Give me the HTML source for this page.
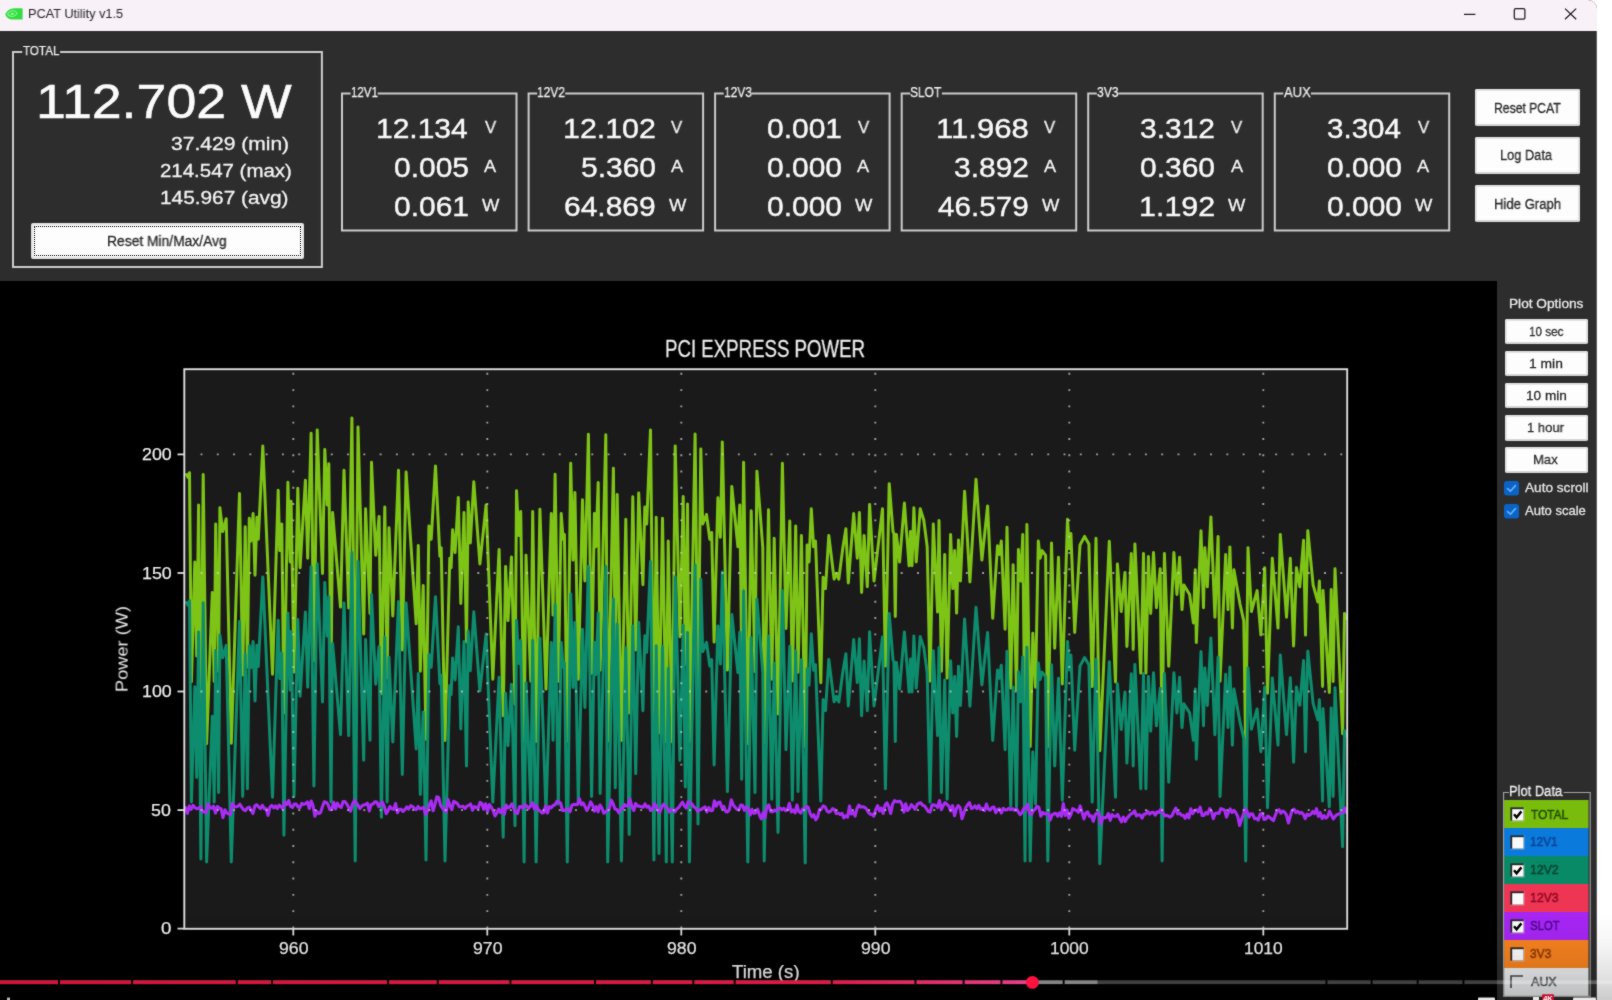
<!DOCTYPE html>
<html><head><meta charset="utf-8"><title>PCAT Utility v1.5</title>
<style>
html,body{margin:0;padding:0}
body{width:1612px;height:1000px;position:relative;overflow:hidden;background:#fff;font-family:"Liberation Sans",sans-serif}
#win{position:absolute;left:0;top:0;width:1597px;height:1000px;background:#2d2d2d;border-top-right-radius:9px;overflow:hidden;box-shadow:inset -1px 0 0 rgba(150,150,150,.45)}
.a{position:absolute;display:block}
.t{position:absolute;white-space:nowrap;line-height:1;transform-origin:0 0;will-change:transform}
#all{position:absolute;left:0;top:0;width:1612px;height:1000px;overflow:hidden;background:#fff;filter:url(#soft)}
</style></head><body><svg width="0" height="0" style="position:absolute"><defs><filter id="soft" x="0" y="0" width="100%" height="100%" color-interpolation-filters="sRGB"><feConvolveMatrix order="3" kernelMatrix="1 2 1 2 20 2 1 2 1" divisor="32" edgeMode="duplicate" preserveAlpha="true"/></filter></defs></svg><div id="all"><div id="win">
<div class="a" style="left:0px;top:0px;width:1597px;height:31px;background:#f8f1f8;"></div>
<svg class="a" style="left:2.9px;top:5.8px" width="21" height="16" viewBox="0 0 21 16">
<path d="M2.2 8.2 C4 4.2 7.5 2.2 11 2.2 L19 2.2 Q19.6 2.2 19.6 2.8 L19.6 13 Q19.6 13.6 19 13.6 L9.5 13.6 C6.2 13.6 3.4 11.6 2.2 8.2 Z" fill="#34dc41"/>
<path d="M4.6 8.1 C6 5.6 8.2 4.6 10.4 4.7 C12 4.8 13.3 5.7 14 7 C12.8 9.6 10.4 10.8 8.2 10.4 C6.6 10.1 5.3 9.3 4.6 8.1 Z" fill="none" stroke="#86f690" stroke-width="1.1"/>
<path d="M7.3 7.9 C8 6.8 9.2 6.5 10.2 6.8 C10.9 7 11.3 7.5 11.4 8 C10.8 8.9 9.8 9.3 8.9 9.1 C8.2 8.9 7.6 8.5 7.3 7.9 Z" fill="#86f690"/>
</svg>
<div class="t" style="left:28.05px;top:7.36px;font-size:13.4px;color:#262626;transform:scaleX(0.9515);">PCAT Utility v1.5</div>
<svg class="a" style="left:1455px;top:0px" width="140" height="31" viewBox="0 0 140 31">
<g fill="none" stroke="#1c1c1c" stroke-width="1.25">
<path d="M9 14.4 H20.4"/>
<rect x="59.3" y="8.6" width="10.6" height="10.4" rx="1.6"/>
<path d="M110 8.6 L121.2 19.2 M121.2 8.6 L110 19.2"/>
</g></svg>
<div class="t" style="left:23.00px;top:44.76px;font-size:12.8px;color:#f2f2f2;transform:scaleX(0.9075);-webkit-text-stroke:0.25px currentColor;">TOTAL</div>
<div class="t" style="left:35.62px;top:76.52px;font-size:49px;color:#fbfbfb;transform:scaleX(1.0961);-webkit-text-stroke:0.55px currentColor;">112.702 W</div>
<div class="t" style="left:170.80px;top:136.40px;font-size:17.6px;color:#f2f2f2;transform:scaleX(1.1959);-webkit-text-stroke:0.3px currentColor;">37.429 (min)</div>
<div class="t" style="left:159.84px;top:163.00px;font-size:17.6px;color:#f2f2f2;transform:scaleX(1.1622);-webkit-text-stroke:0.3px currentColor;">214.547 (max)</div>
<div class="t" style="left:159.82px;top:189.60px;font-size:17.6px;color:#f2f2f2;transform:scaleX(1.1832);-webkit-text-stroke:0.3px currentColor;">145.967 (avg)</div>
<div class="a" style="left:31px;top:223px;width:273px;height:36px;background:#fdfdfd;border:2px solid #e3e3e3;box-sizing:border-box;border-radius:2px;"></div>
<div class="a" style="left:34px;top:226px;width:267px;height:30px;border:1px dotted #000;box-sizing:border-box;"></div>
<div class="t" style="left:107.01px;top:234.35px;font-size:14px;color:#2a2a2a;transform:scaleX(0.9882);-webkit-text-stroke:0.3px currentColor;">Reset Min/Max/Avg</div>
<div class="t" style="left:350.58px;top:85.15px;font-size:14px;color:#f2f2f2;transform:scaleX(0.8226);-webkit-text-stroke:0.25px currentColor;">12V1</div>
<div class="t" style="left:376.34px;top:115.27px;font-size:27.2px;color:#f8f8f8;transform:scaleX(1.1031);-webkit-text-stroke:0.4px currentColor;">12.134</div>
<div class="t" style="left:484.80px;top:119.15px;font-size:17.3px;color:#f2f2f2;transform:scaleX(0.9667);-webkit-text-stroke:0.3px currentColor;">V</div>
<div class="t" style="left:394.00px;top:154.27px;font-size:27.2px;color:#f8f8f8;transform:scaleX(1.1030);-webkit-text-stroke:0.4px currentColor;">0.005</div>
<div class="t" style="left:484.30px;top:158.15px;font-size:17.3px;color:#f2f2f2;transform:scaleX(1.0500);-webkit-text-stroke:0.3px currentColor;">A</div>
<div class="t" style="left:394.00px;top:193.27px;font-size:27.2px;color:#f8f8f8;transform:scaleX(1.1030);-webkit-text-stroke:0.4px currentColor;">0.061</div>
<div class="t" style="left:482.10px;top:197.15px;font-size:17.3px;color:#f2f2f2;transform:scaleX(1.0625);-webkit-text-stroke:0.3px currentColor;">W</div>
<div class="t" style="left:537.10px;top:85.15px;font-size:14px;color:#f2f2f2;transform:scaleX(0.8548);-webkit-text-stroke:0.25px currentColor;">12V2</div>
<div class="t" style="left:562.87px;top:115.27px;font-size:27.2px;color:#f8f8f8;transform:scaleX(1.1169);-webkit-text-stroke:0.4px currentColor;">12.102</div>
<div class="t" style="left:671.35px;top:119.15px;font-size:17.3px;color:#f2f2f2;transform:scaleX(0.9667);-webkit-text-stroke:0.3px currentColor;">V</div>
<div class="t" style="left:580.55px;top:154.27px;font-size:27.2px;color:#f8f8f8;transform:scaleX(1.1030);-webkit-text-stroke:0.4px currentColor;">5.360</div>
<div class="t" style="left:670.85px;top:158.15px;font-size:17.3px;color:#f2f2f2;transform:scaleX(1.0500);-webkit-text-stroke:0.3px currentColor;">A</div>
<div class="t" style="left:564.00px;top:193.27px;font-size:27.2px;color:#f8f8f8;transform:scaleX(1.1031);-webkit-text-stroke:0.4px currentColor;">64.869</div>
<div class="t" style="left:668.65px;top:197.15px;font-size:17.3px;color:#f2f2f2;transform:scaleX(1.0625);-webkit-text-stroke:0.3px currentColor;">W</div>
<div class="t" style="left:723.65px;top:85.15px;font-size:14px;color:#f2f2f2;transform:scaleX(0.8548);-webkit-text-stroke:0.25px currentColor;">12V3</div>
<div class="t" style="left:767.10px;top:115.27px;font-size:27.2px;color:#f8f8f8;transform:scaleX(1.1030);-webkit-text-stroke:0.4px currentColor;">0.001</div>
<div class="t" style="left:857.90px;top:119.15px;font-size:17.3px;color:#f2f2f2;transform:scaleX(0.9667);-webkit-text-stroke:0.3px currentColor;">V</div>
<div class="t" style="left:767.10px;top:154.27px;font-size:27.2px;color:#f8f8f8;transform:scaleX(1.1030);-webkit-text-stroke:0.4px currentColor;">0.000</div>
<div class="t" style="left:857.40px;top:158.15px;font-size:17.3px;color:#f2f2f2;transform:scaleX(1.0500);-webkit-text-stroke:0.3px currentColor;">A</div>
<div class="t" style="left:767.10px;top:193.27px;font-size:27.2px;color:#f8f8f8;transform:scaleX(1.1030);-webkit-text-stroke:0.4px currentColor;">0.000</div>
<div class="t" style="left:855.20px;top:197.15px;font-size:17.3px;color:#f2f2f2;transform:scaleX(1.0625);-webkit-text-stroke:0.3px currentColor;">W</div>
<div class="t" style="left:910.19px;top:85.15px;font-size:14px;color:#f2f2f2;transform:scaleX(0.8571);-webkit-text-stroke:0.25px currentColor;">SLOT</div>
<div class="t" style="left:935.91px;top:115.27px;font-size:27.2px;color:#f8f8f8;transform:scaleX(1.1455);-webkit-text-stroke:0.4px currentColor;">11.968</div>
<div class="t" style="left:1044.45px;top:119.15px;font-size:17.3px;color:#f2f2f2;transform:scaleX(0.9667);-webkit-text-stroke:0.3px currentColor;">V</div>
<div class="t" style="left:953.65px;top:154.27px;font-size:27.2px;color:#f8f8f8;transform:scaleX(1.1030);-webkit-text-stroke:0.4px currentColor;">3.892</div>
<div class="t" style="left:1043.95px;top:158.15px;font-size:17.3px;color:#f2f2f2;transform:scaleX(1.0500);-webkit-text-stroke:0.3px currentColor;">A</div>
<div class="t" style="left:938.20px;top:193.27px;font-size:27.2px;color:#f8f8f8;transform:scaleX(1.0896);-webkit-text-stroke:0.4px currentColor;">46.579</div>
<div class="t" style="left:1041.75px;top:197.15px;font-size:17.3px;color:#f2f2f2;transform:scaleX(1.0625);-webkit-text-stroke:0.3px currentColor;">W</div>
<div class="t" style="left:1096.73px;top:85.15px;font-size:14px;color:#f2f2f2;transform:scaleX(0.8696);-webkit-text-stroke:0.25px currentColor;">3V3</div>
<div class="t" style="left:1140.20px;top:115.27px;font-size:27.2px;color:#f8f8f8;transform:scaleX(1.1030);-webkit-text-stroke:0.4px currentColor;">3.312</div>
<div class="t" style="left:1231.00px;top:119.15px;font-size:17.3px;color:#f2f2f2;transform:scaleX(0.9667);-webkit-text-stroke:0.3px currentColor;">V</div>
<div class="t" style="left:1140.20px;top:154.27px;font-size:27.2px;color:#f8f8f8;transform:scaleX(1.1030);-webkit-text-stroke:0.4px currentColor;">0.360</div>
<div class="t" style="left:1230.50px;top:158.15px;font-size:17.3px;color:#f2f2f2;transform:scaleX(1.0500);-webkit-text-stroke:0.3px currentColor;">A</div>
<div class="t" style="left:1139.06px;top:193.27px;font-size:27.2px;color:#f8f8f8;transform:scaleX(1.1200);-webkit-text-stroke:0.4px currentColor;">1.192</div>
<div class="t" style="left:1228.30px;top:197.15px;font-size:17.3px;color:#f2f2f2;transform:scaleX(1.0625);-webkit-text-stroke:0.3px currentColor;">W</div>
<div class="t" style="left:1284.15px;top:85.15px;font-size:14px;color:#f2f2f2;transform:scaleX(0.9286);-webkit-text-stroke:0.25px currentColor;">AUX</div>
<div class="t" style="left:1326.76px;top:115.27px;font-size:27.2px;color:#f8f8f8;transform:scaleX(1.0866);-webkit-text-stroke:0.4px currentColor;">3.304</div>
<div class="t" style="left:1417.55px;top:119.15px;font-size:17.3px;color:#f2f2f2;transform:scaleX(0.9667);-webkit-text-stroke:0.3px currentColor;">V</div>
<div class="t" style="left:1326.75px;top:154.27px;font-size:27.2px;color:#f8f8f8;transform:scaleX(1.1030);-webkit-text-stroke:0.4px currentColor;">0.000</div>
<div class="t" style="left:1417.05px;top:158.15px;font-size:17.3px;color:#f2f2f2;transform:scaleX(1.0500);-webkit-text-stroke:0.3px currentColor;">A</div>
<div class="t" style="left:1326.75px;top:193.27px;font-size:27.2px;color:#f8f8f8;transform:scaleX(1.1030);-webkit-text-stroke:0.4px currentColor;">0.000</div>
<div class="t" style="left:1414.85px;top:197.15px;font-size:17.3px;color:#f2f2f2;transform:scaleX(1.0625);-webkit-text-stroke:0.3px currentColor;">W</div>
<div class="a" style="left:1475px;top:89px;width:105px;height:37px;background:#fdfdfd;border:2px solid #e3e3e3;border-bottom-color:#d6d6d6;box-sizing:border-box;border-radius:2px;"></div>
<div class="t" style="left:1493.63px;top:100.75px;font-size:14px;color:#2a2a2a;transform:scaleX(0.8684);-webkit-text-stroke:0.3px currentColor;">Reset PCAT</div>
<div class="a" style="left:1475px;top:137px;width:105px;height:37px;background:#fdfdfd;border:2px solid #e3e3e3;border-bottom-color:#d6d6d6;box-sizing:border-box;border-radius:2px;"></div>
<div class="t" style="left:1500.08px;top:148.45px;font-size:14px;color:#2a2a2a;transform:scaleX(0.9161);-webkit-text-stroke:0.3px currentColor;">Log Data</div>
<div class="a" style="left:1475px;top:185px;width:105px;height:36.5px;background:#fdfdfd;border:2px solid #e3e3e3;border-bottom-color:#d6d6d6;box-sizing:border-box;border-radius:2px;"></div>
<div class="t" style="left:1493.86px;top:196.95px;font-size:14px;color:#2a2a2a;transform:scaleX(0.9371);-webkit-text-stroke:0.3px currentColor;">Hide Graph</div>
<div class="a" style="left:0px;top:280.5px;width:1497px;height:719.5px;background:#000;"></div>
<div class="t" style="left:1509.05px;top:296.79px;font-size:13px;color:#e8e8e8;transform:scaleX(1.0507);-webkit-text-stroke:0.3px currentColor;">Plot Options</div>
<div class="a" style="left:1505px;top:319px;width:82.5px;height:24.5px;background:#fdfdfd;border:2px solid #e3e3e3;border-bottom-color:#d6d6d6;box-sizing:border-box;border-radius:2px;"></div>
<div class="t" style="left:1528.84px;top:324.54px;font-size:13.6px;color:#2a2a2a;transform:scaleX(0.8590);-webkit-text-stroke:0.3px currentColor;">10 sec</div>
<div class="a" style="left:1505px;top:350.5px;width:82.5px;height:25.5px;background:#fdfdfd;border:2px solid #e3e3e3;border-bottom-color:#d6d6d6;box-sizing:border-box;border-radius:2px;"></div>
<div class="t" style="left:1528.98px;top:356.54px;font-size:13.6px;color:#2a2a2a;transform:scaleX(1.0187);-webkit-text-stroke:0.3px currentColor;">1 min</div>
<div class="a" style="left:1505px;top:383px;width:82.5px;height:25px;background:#fdfdfd;border:2px solid #e3e3e3;border-bottom-color:#d6d6d6;box-sizing:border-box;border-radius:2px;"></div>
<div class="t" style="left:1526.00px;top:388.79px;font-size:13.6px;color:#2a2a2a;transform:scaleX(0.9974);-webkit-text-stroke:0.3px currentColor;">10 min</div>
<div class="a" style="left:1505px;top:415px;width:82.5px;height:25.5px;background:#fdfdfd;border:2px solid #e3e3e3;border-bottom-color:#d6d6d6;box-sizing:border-box;border-radius:2px;"></div>
<div class="t" style="left:1527.44px;top:421.04px;font-size:13.6px;color:#2a2a2a;transform:scaleX(0.9579);-webkit-text-stroke:0.3px currentColor;">1 hour</div>
<div class="a" style="left:1505px;top:447px;width:82.5px;height:26px;background:#fdfdfd;border:2px solid #e3e3e3;border-bottom-color:#d6d6d6;box-sizing:border-box;border-radius:2px;"></div>
<div class="t" style="left:1532.84px;top:453.29px;font-size:13.6px;color:#2a2a2a;transform:scaleX(0.9600);-webkit-text-stroke:0.3px currentColor;">Max</div>
<svg class="a" style="left:1504px;top:480.9px" width="16" height="16" viewBox="0 0 16 16"><rect x="0" y="0" width="15" height="14.5" rx="3" fill="#0b63c6"/><path d="M3.6 7.6 L6.4 10.2 L11.4 4.6" fill="none" stroke="#5fb2ff" stroke-width="1.7" stroke-linecap="round" stroke-linejoin="round"/></svg>
<div class="t" style="left:1524.50px;top:481.86px;font-size:12.8px;color:#e4e4e4;transform:scaleX(1.0644);-webkit-text-stroke:0.3px currentColor;">Auto scroll</div>
<svg class="a" style="left:1504px;top:504.1px" width="16" height="16" viewBox="0 0 16 16"><rect x="0" y="0" width="15" height="14.5" rx="3" fill="#0b63c6"/><path d="M3.6 7.6 L6.4 10.2 L11.4 4.6" fill="none" stroke="#5fb2ff" stroke-width="1.7" stroke-linecap="round" stroke-linejoin="round"/></svg>
<div class="t" style="left:1524.50px;top:504.86px;font-size:12.8px;color:#e4e4e4;transform:scaleX(1.0183);-webkit-text-stroke:0.3px currentColor;">Auto scale</div>
<div class="t" style="left:1509.08px;top:784.35px;font-size:14px;color:#f4f4f4;transform:scaleX(0.9228);-webkit-text-stroke:0.3px currentColor;">Plot Data</div>
<svg class="a" style="left:1504px;top:799.20px" width="85" height="30"><rect x="0.1" y="1" width="84.4" height="28.15" fill="#79bc0c"/></svg>
<svg class="a" style="left:1509.5px;top:807.2px" width="16" height="16"><rect x="0.5" y="0.5" width="14" height="14" fill="#fff" fill-opacity=".35"/><rect x="0.3" y="0.3" width="13.4" height="13.4" fill="#1a1a1a" fill-opacity=".9"/><rect x="2.2" y="2.2" width="11.4" height="11.4" fill="#fbfbfb"/><path d="M4 7.2 L6.6 10.2 L11.4 4.4" fill="none" stroke="#000" stroke-width="2.5"/></svg>
<div class="t" style="left:1530.50px;top:807.53px;font-size:13.4px;color:#1f4d00;transform:scaleX(0.8857);-webkit-text-stroke:0.5px currentColor;">TOTAL</div>
<svg class="a" style="left:1504px;top:827.15px" width="85" height="30"><rect x="0.1" y="1" width="84.4" height="28.15" fill="#0a7bdc"/></svg>
<svg class="a" style="left:1509.5px;top:835.1px" width="16" height="16"><rect x="0.5" y="0.5" width="14" height="14" fill="#fff" fill-opacity=".35"/><rect x="0.3" y="0.3" width="13.4" height="13.4" fill="#1a1a1a" fill-opacity=".9"/><rect x="2.2" y="2.2" width="11.4" height="11.4" fill="#fbfbfb"/></svg>
<div class="t" style="left:1529.62px;top:835.48px;font-size:13.4px;color:#0b3f91;transform:scaleX(0.8800);-webkit-text-stroke:0.5px currentColor;">12V1</div>
<svg class="a" style="left:1504px;top:855.10px" width="85" height="30"><rect x="0.1" y="1" width="84.4" height="28.15" fill="#088a66"/></svg>
<svg class="a" style="left:1509.5px;top:863.1px" width="16" height="16"><rect x="0.5" y="0.5" width="14" height="14" fill="#fff" fill-opacity=".35"/><rect x="0.3" y="0.3" width="13.4" height="13.4" fill="#1a1a1a" fill-opacity=".9"/><rect x="2.2" y="2.2" width="11.4" height="11.4" fill="#fbfbfb"/><path d="M4 7.2 L6.6 10.2 L11.4 4.4" fill="none" stroke="#000" stroke-width="2.5"/></svg>
<div class="t" style="left:1529.59px;top:863.43px;font-size:13.4px;color:#04402f;transform:scaleX(0.9133);-webkit-text-stroke:0.5px currentColor;">12V2</div>
<svg class="a" style="left:1504px;top:883.05px" width="85" height="30"><rect x="0.1" y="1" width="84.4" height="28.15" fill="#ef3554"/></svg>
<svg class="a" style="left:1509.5px;top:891.0px" width="16" height="16"><rect x="0.5" y="0.5" width="14" height="14" fill="#fff" fill-opacity=".35"/><rect x="0.3" y="0.3" width="13.4" height="13.4" fill="#1a1a1a" fill-opacity=".9"/><rect x="2.2" y="2.2" width="11.4" height="11.4" fill="#fbfbfb"/></svg>
<div class="t" style="left:1529.59px;top:891.38px;font-size:13.4px;color:#8c0a22;transform:scaleX(0.9133);-webkit-text-stroke:0.5px currentColor;">12V3</div>
<svg class="a" style="left:1504px;top:911.00px" width="85" height="30"><rect x="0.1" y="1" width="84.4" height="28.15" fill="#a626f4"/></svg>
<svg class="a" style="left:1509.5px;top:919.0px" width="16" height="16"><rect x="0.5" y="0.5" width="14" height="14" fill="#fff" fill-opacity=".35"/><rect x="0.3" y="0.3" width="13.4" height="13.4" fill="#1a1a1a" fill-opacity=".9"/><rect x="2.2" y="2.2" width="11.4" height="11.4" fill="#fbfbfb"/><path d="M4 7.2 L6.6 10.2 L11.4 4.4" fill="none" stroke="#000" stroke-width="2.5"/></svg>
<div class="t" style="left:1529.65px;top:919.33px;font-size:13.4px;color:#4f0a8c;transform:scaleX(0.8471);-webkit-text-stroke:0.5px currentColor;">SLOT</div>
<svg class="a" style="left:1504px;top:938.95px" width="85" height="30"><rect x="0.1" y="1" width="84.4" height="28.15" fill="#f6821f"/></svg>
<svg class="a" style="left:1509.5px;top:946.9px" width="16" height="16"><rect x="0.5" y="0.5" width="14" height="14" fill="#fff" fill-opacity=".35"/><rect x="0.3" y="0.3" width="13.4" height="13.4" fill="#1a1a1a" fill-opacity=".9"/><rect x="2.2" y="2.2" width="11.4" height="11.4" fill="#fbfbfb"/></svg>
<div class="t" style="left:1529.61px;top:947.28px;font-size:13.4px;color:#8a3600;transform:scaleX(0.8870);-webkit-text-stroke:0.5px currentColor;">3V3</div>
<svg class="a" style="left:1504px;top:966.90px" width="85" height="30"><rect x="0.1" y="1" width="84.4" height="28.15" fill="#e9ebec"/></svg>
<svg class="a" style="left:1510px;top:975.4px" width="14" height="14"><path d="M1 13 V1 H13" fill="none" stroke="#444" stroke-width="1.6"/></svg>
<div class="t" style="left:1530.50px;top:975.23px;font-size:13.4px;color:#4a4a4a;transform:scaleX(0.9333);-webkit-text-stroke:0.5px currentColor;">AUX</div>
<svg class="a" style="left:0;top:0" width="1597" height="1000"><path d="M60.1 51.9 H321.9 V267 H13 V51.9 H22.2" fill="none" stroke="#cbcbcb" stroke-width="2.0"/><path d="M377.7 93.5 H516.5 V230.6 H342.0 V93.5 H350.6" fill="none" stroke="#cbcbcb" stroke-width="2.0"/><path d="M565.2 93.5 H703.1 V230.6 H528.6 V93.5 H537.2" fill="none" stroke="#cbcbcb" stroke-width="2.0"/><path d="M751.8 93.5 H889.6 V230.6 H715.1 V93.5 H723.7" fill="none" stroke="#cbcbcb" stroke-width="2.0"/><path d="M941.9 93.5 H1076.2 V230.6 H901.7 V93.5 H910.3" fill="none" stroke="#cbcbcb" stroke-width="2.0"/><path d="M1118.4 93.5 H1262.7 V230.6 H1088.2 V93.5 H1096.8" fill="none" stroke="#cbcbcb" stroke-width="2.0"/><path d="M1310.9 93.5 H1449.2 V230.6 H1274.8 V93.5 H1283.3" fill="none" stroke="#cbcbcb" stroke-width="2.0"/><path d="M1563.6 792.5 H1590.2 V996.4 H1503.6 V792.5 H1509.0" fill="none" stroke="#a4a4a4" stroke-width="1.1"/></svg>
<svg class="a" style="left:0;top:281px" width="1497" height="719" viewBox="0 281 1497 719">
<rect x="184.3" y="369.2" width="1162.9" height="559.5999999999999" fill="#1a1a1a"/>
<clipPath id="cp"><rect x="184.3" y="369.2" width="1162.9" height="559.5999999999999"/></clipPath><g clip-path="url(#cp)">
<polyline points="186.6,474.6 188.0,477.4 189.5,472.7 191.4,681.7 194.8,562.0 196.7,656.0 198.6,505.0 200.9,740.8 203.2,474.6 206.6,743.7 212.3,592.4 214.2,681.4 215.7,524.0 218.6,671.5 219.9,507.8 222.7,531.6 226.2,518.7 231.3,743.3 239.5,493.6 242.7,675.0 245.2,526.8 247.4,666.9 249.3,518.3 250.9,541.1 253.1,513.5 255.0,575.3 256.9,517.3 258.3,539.2 262.8,446.1 272.5,674.3 278.2,490.2 279.7,550.6 281.8,524.0 283.9,713.1 287.9,482.2 290.2,562.0 291.1,501.2 294.0,672.1 297.8,488.3 300.1,567.7 305.4,480.3 307.7,558.2 311.1,433.2 313.9,660.7 317.2,429.9 322.5,573.4 324.8,449.5 327.2,505.0 328.8,463.8 331.0,677.2 332.6,512.6 340.5,607.1 344.0,470.2 348.7,607.9 351.9,418.0 355.2,738.2 358.0,427.1 363.7,634.0 365.6,508.8 370.0,613.5 371.5,462.2 375.7,555.3 379.1,516.4 381.4,693.7 384.8,506.9 387.1,678.1 389.0,527.8 392.8,615.9 398.5,470.2 402.3,649.9 406.1,472.1 416.2,623.8 418.3,545.5 420.3,671.2 423.2,585.6 426.0,739.3 428.9,525.9 431.2,539.2 435.5,466.0 439.9,556.3 441.2,547.7 445.0,740.4 449.8,558.2 451.1,567.7 452.6,529.7 455.1,552.5 458.3,497.4 460.8,603.4 464.0,512.6 466.5,641.9 468.2,502.1 470.3,543.0 473.8,481.8 479.9,563.9 486.1,505.0 492.8,679.3 499.1,549.6 503.2,715.8 505.6,566.4 508.0,620.6 511.5,557.0 515.0,703.9 516.5,490.7 518.8,535.4 520.7,511.6 524.1,741.4 526.0,555.3 530.8,681.2 532.7,511.6 536.1,741.4 539.9,509.2 546.0,689.1 551.3,513.5 553.0,615.1 555.1,474.2 558.3,681.2 561.2,513.5 563.1,539.2 564.4,534.4 567.3,741.3 570.7,463.2 573.0,560.1 574.9,492.6 578.3,679.2 582.5,499.7 584.9,581.0 588.4,434.3 591.6,673.2 594.4,513.5 595.8,546.8 598.2,482.6 600.1,670.3 605.8,434.7 607.7,741.3 613.4,468.3 615.3,664.5 617.2,494.5 621.4,740.5 625.8,519.2 629.2,712.9 632.8,496.8 635.7,649.9 638.7,493.0 642.9,584.8 644.8,506.9 646.7,524.0 650.5,429.9 653.9,739.8 656.2,517.3 659.0,733.0 662.5,518.3 666.3,741.9 668.2,541.1 672.3,742.0 675.2,446.1 679.9,636.7 683.2,496.4 685.3,664.2 687.5,504.0 689.4,742.1 695.1,434.1 698.0,702.8 700.8,448.9 702.7,524.0 706.5,514.5 709.8,539.2 711.7,532.5 714.1,642.1 717.9,497.8 720.4,537.3 722.3,441.9 727.4,670.1 731.8,486.4 737.9,546.8 739.8,505.0 741.7,657.6 743.6,462.2 747.8,743.6 751.2,510.7 755.0,671.8 756.9,471.2 762.8,547.7 764.2,743.1 768.5,509.7 771.8,679.2 774.2,538.2 778.0,713.9 782.4,463.2 786.0,628.5 789.8,521.1 792.3,680.9 795.7,525.9 798.0,672.2 801.4,535.4 805.2,746.4 807.1,544.9 809.0,562.0 811.3,508.8 813.6,546.8 815.5,541.1 820.8,682.8 823.1,577.2 825.5,588.6 828.8,535.4 834.1,579.1 836.4,573.4 838.8,579.1 842.6,549.6 845.9,528.7 848.3,582.9 853.7,513.5 857.3,558.2 859.4,512.6 861.6,592.4 864.1,535.4 867.3,586.7 869.6,504.4 874.0,581.0 882.5,508.8 885.4,666.1 889.2,483.7 893.0,531.6 893.9,533.5 895.3,616.5 896.4,534.4 899.6,562.0 904.4,503.1 909.1,565.8 910.5,531.6 912.0,565.8 913.9,507.8 916.2,562.0 920.2,508.8 923.8,520.2 927.2,546.8 930.0,681.1 933.3,524.0 937.6,612.1 939.0,520.6 941.4,671.2 944.7,554.4 947.1,678.1 950.6,534.4 952.8,588.6 954.7,550.6 956.6,613.1 958.5,540.1 960.4,581.0 964.6,491.3 969.9,581.9 976.0,479.3 981.9,560.1 987.6,505.9 992.7,618.3 997.5,545.8 999.4,554.4 1001.3,541.1 1005.1,629.3 1007.0,527.2 1010.8,688.1 1013.1,564.8 1016.5,689.6 1018.4,549.6 1020.7,581.0 1022.8,534.4 1025.0,746.3 1026.9,524.4 1030.2,746.4 1032.8,633.3 1035.5,687.3 1038.3,541.1 1040.2,558.2 1042.1,550.6 1045.6,555.3 1047.8,746.8 1051.5,543.1 1054.7,648.3 1058.5,557.3 1062.3,684.0 1067.5,519.3 1069.4,548.8 1070.9,533.6 1074.7,632.4 1080.0,545.0 1084.6,536.4 1088.9,544.0 1092.2,686.6 1096.0,538.3 1099.8,750.8 1109.3,541.2 1115.5,681.9 1117.4,564.0 1121.2,611.5 1125.0,572.5 1126.9,646.4 1131.3,553.5 1133.2,649.4 1134.9,544.0 1140.8,673.1 1143.5,553.5 1145.9,673.1 1148.4,556.4 1150.7,613.4 1153.5,552.6 1156.4,607.7 1160.2,568.7 1162.1,748.0 1164.4,553.5 1168.7,666.2 1173.9,552.6 1176.9,594.4 1179.6,557.3 1182.0,609.6 1183.9,584.9 1189.6,594.4 1193.4,622.9 1195.3,569.7 1196.3,642.6 1201.0,530.7 1203.5,607.7 1204.8,547.8 1207.3,586.8 1210.9,516.9 1214.9,617.2 1218.1,536.4 1220.0,681.2 1225.7,554.5 1228.0,609.6 1229.9,546.9 1232.4,628.0 1233.9,569.7 1240.0,604.1 1243.8,621.0 1245.7,748.3 1248.0,547.8 1251.4,611.5 1257.1,590.6 1260.9,634.9 1264.7,567.8 1267.5,693.2 1272.3,558.3 1278.0,628.1 1280.3,534.5 1286.5,617.2 1290.3,558.3 1293.6,645.9 1296.4,567.8 1299.8,586.8 1303.6,540.2 1305.5,635.1 1307.8,530.7 1313.1,584.9 1317.9,602.0 1319.4,581.1 1322.6,686.4 1323.0,590.6 1329.3,692.4 1331.2,589.6 1333.1,681.5 1335.0,568.7 1342.6,733.8 1344.5,613.4 1346.5,618.5" fill="none" stroke="#7ec416" stroke-width="3.0" stroke-linejoin="round" stroke-linecap="round"/>
<polyline points="186.6,602.5 188.0,605.2 189.5,600.7 191.4,802.1 194.8,686.8 196.7,777.4 198.6,631.9 200.9,859.1 203.2,602.7 206.6,861.9 212.3,716.3 214.2,802.1 215.7,650.4 218.6,792.6 219.9,634.9 222.7,657.8 226.2,645.4 231.3,861.9 239.5,621.4 242.7,796.4 245.2,653.8 247.4,788.8 249.3,645.8 250.9,667.8 253.1,641.4 255.0,701.0 256.9,645.3 258.3,666.4 262.8,576.9 272.5,797.3 278.2,620.3 279.7,678.6 281.8,653.0 283.9,835.3 287.9,613.1 290.2,690.1 291.1,631.6 294.0,796.4 297.8,619.5 300.1,696.2 305.4,612.0 307.7,687.1 311.1,566.7 313.9,786.0 317.2,563.7 322.5,702.0 324.8,582.6 327.2,636.1 328.8,596.4 331.0,802.1 332.6,643.5 340.5,734.6 344.0,602.9 348.7,735.6 351.9,552.6 355.2,861.0 358.0,561.2 363.7,760.3 365.6,639.6 370.0,740.3 371.5,594.6 375.7,684.2 379.1,646.6 381.4,817.3 384.8,637.2 387.1,802.1 389.0,657.2 392.8,742.0 398.5,601.5 402.3,774.5 406.1,603.1 416.2,748.9 418.3,673.4 420.3,794.5 423.2,711.9 426.0,860.0 428.9,654.4 431.2,667.2 435.5,596.7 439.9,683.7 441.2,675.4 445.0,861.0 449.8,685.4 451.1,694.6 452.6,658.0 455.1,679.9 458.3,626.8 460.8,728.9 464.0,641.4 466.5,766.0 468.2,631.3 470.3,670.7 473.8,611.8 479.9,690.8 486.1,634.1 492.8,802.1 499.1,677.2 503.2,837.2 505.6,693.3 508.0,745.6 511.5,684.2 515.0,825.8 516.5,620.4 518.8,663.5 520.7,640.6 524.1,861.9 526.0,682.7 530.8,804.0 532.7,640.6 536.1,861.9 539.9,638.2 546.0,811.6 551.3,642.5 553.0,740.3 555.1,604.6 558.3,804.0 561.2,642.5 563.1,667.2 564.4,662.6 567.3,861.9 570.7,594.0 573.0,687.4 574.9,622.4 578.3,802.1 582.5,629.2 584.9,707.5 588.4,566.2 591.6,796.4 594.4,642.5 595.8,674.6 598.2,612.7 600.1,793.5 605.8,566.5 607.7,861.9 613.4,598.9 615.3,787.8 617.2,624.1 621.4,861.0 625.8,647.8 629.2,834.4 632.8,626.1 635.7,773.6 638.7,622.4 642.9,710.8 644.8,635.7 646.7,652.2 650.5,561.5 653.9,860.0 656.2,645.7 659.0,853.4 662.5,646.5 666.3,861.9 668.2,668.5 672.3,861.9 675.2,576.9 679.9,760.4 683.2,625.3 685.3,786.9 687.5,632.6 689.4,861.9 695.1,565.1 698.0,824.0 700.8,579.3 702.7,651.6 706.5,642.3 709.8,666.1 711.7,659.6 714.1,765.0 717.9,625.9 720.4,663.9 722.3,572.0 727.4,791.6 731.8,614.6 737.9,672.6 739.8,632.3 741.7,779.3 743.6,591.0 747.8,861.9 751.2,637.4 755.0,792.6 756.9,599.2 762.8,672.8 764.2,861.0 768.5,636.0 771.8,799.2 774.2,663.3 778.0,832.4 782.4,590.7 786.0,749.8 789.8,646.3 792.3,800.2 795.7,650.7 798.0,791.6 801.4,659.7 805.2,862.9 807.1,668.7 809.0,685.1 811.3,633.8 813.6,670.3 815.5,664.7 820.8,801.1 823.1,699.5 825.5,710.6 828.8,659.5 834.1,701.8 836.4,696.4 838.8,702.0 842.6,673.8 845.9,653.8 848.3,706.0 853.7,639.5 857.3,682.6 859.4,638.8 861.6,715.8 864.1,661.1 867.3,710.8 869.6,631.8 874.0,705.9 882.5,637.1 885.4,788.8 889.2,613.5 893.0,659.9 893.9,661.7 895.3,741.6 896.4,662.5 899.6,688.9 904.4,631.9 909.1,692.1 910.5,659.1 912.0,691.9 913.9,636.0 916.2,688.1 920.2,636.6 923.8,647.4 927.2,672.8 930.0,802.1 933.3,650.7 937.6,735.6 939.0,647.4 941.4,792.6 944.7,680.0 947.1,799.2 950.6,660.8 952.8,713.0 954.7,676.4 956.6,736.5 958.5,666.3 960.4,705.6 964.6,619.1 969.9,706.2 976.0,607.2 981.9,684.8 987.6,632.5 992.7,740.4 997.5,670.1 999.4,678.2 1001.3,665.2 1005.1,749.8 1007.0,651.3 1010.8,805.9 1013.1,687.0 1016.5,806.8 1018.4,671.8 1020.7,701.8 1022.8,656.9 1025.0,861.0 1026.9,647.2 1030.2,861.0 1032.8,751.9 1035.5,804.0 1038.3,663.0 1040.2,679.5 1042.1,672.1 1045.6,676.6 1047.8,861.0 1051.5,664.7 1054.7,766.0 1058.5,678.3 1062.3,800.2 1067.5,641.5 1069.4,669.8 1070.9,655.1 1074.7,750.2 1080.0,665.9 1084.6,657.6 1088.9,664.8 1092.2,802.1 1096.0,659.2 1099.8,863.8 1109.3,661.8 1115.5,797.3 1117.4,683.8 1121.2,729.5 1125.0,692.0 1126.9,763.1 1131.3,673.7 1133.2,766.0 1134.9,664.5 1140.8,788.8 1143.5,673.6 1145.9,788.8 1148.4,676.4 1150.7,731.3 1153.5,672.7 1156.4,725.8 1160.2,688.3 1162.1,861.0 1164.4,673.6 1168.7,782.2 1173.9,672.7 1176.9,712.9 1179.6,677.2 1182.0,727.6 1183.9,703.8 1189.6,712.9 1193.4,740.3 1195.3,689.1 1196.3,759.3 1201.0,651.5 1203.5,725.7 1204.8,668.0 1207.3,705.5 1210.9,638.1 1214.9,734.8 1218.1,657.0 1220.0,796.4 1225.7,674.3 1228.0,727.4 1229.9,667.0 1232.4,745.1 1233.9,689.0 1240.0,722.1 1243.8,738.4 1245.7,861.0 1248.0,667.9 1251.4,729.2 1257.1,709.0 1260.9,751.7 1264.7,687.0 1267.5,807.8 1272.3,677.9 1278.0,745.1 1280.3,654.9 1286.5,734.6 1290.3,677.8 1293.6,762.2 1296.4,686.9 1299.8,705.2 1303.6,660.4 1305.5,751.7 1307.8,651.2 1313.1,703.4 1317.9,719.8 1319.4,699.7 1322.6,801.1 1323.0,708.8 1329.3,806.8 1331.2,707.9 1333.1,796.4 1335.0,687.7 1342.6,846.7 1344.5,730.7 1346.5,735.6" fill="none" stroke="#0d8d6d" stroke-width="3.0" stroke-linejoin="round" stroke-linecap="round"/>
<polyline points="185.5,807.5 187.4,813.3 189.3,805.9 191.1,809.3 193.0,805.3 194.9,807.7 196.8,808.7 198.6,808.2 200.5,806.7 202.4,811.6 204.3,811.7 206.1,812.9 208.0,804.0 209.9,807.7 211.8,808.3 213.6,806.1 215.5,813.1 217.4,806.5 219.3,808.1 221.1,808.7 223.0,817.6 224.9,809.8 226.8,812.9 228.6,814.0 230.5,814.4 232.4,803.3 234.3,807.0 236.1,806.7 238.0,806.3 239.9,804.2 241.8,807.4 243.6,809.8 245.5,810.7 247.4,807.9 249.3,807.1 251.1,810.3 253.0,813.5 254.9,805.6 256.8,804.8 258.6,806.9 260.5,808.6 262.4,805.3 264.3,808.7 266.2,808.8 268.0,815.3 269.9,807.1 271.8,805.5 273.7,807.9 275.5,806.0 277.4,808.6 279.3,805.1 281.2,806.7 283.0,809.0 284.9,801.9 286.8,804.4 288.7,800.5 290.5,806.4 292.4,807.4 294.3,804.0 296.2,804.1 298.0,806.9 299.9,807.5 301.8,803.4 303.7,804.4 305.5,803.6 307.4,802.0 309.3,808.6 311.2,801.0 313.0,805.4 314.9,816.3 316.8,811.4 318.7,813.6 320.5,812.7 322.4,806.7 324.3,801.9 326.2,802.2 328.0,804.5 329.9,809.7 331.8,809.2 333.7,802.2 335.5,808.9 337.4,803.2 339.3,806.5 341.2,807.5 343.1,801.5 344.9,801.5 346.8,804.1 348.7,807.6 350.6,811.2 352.4,804.4 354.3,800.4 356.2,802.7 358.1,805.4 359.9,808.6 361.8,806.1 363.7,804.9 365.6,804.5 367.4,803.1 369.3,810.9 371.2,804.5 373.1,804.0 374.9,801.7 376.8,802.0 378.7,806.6 380.6,803.4 382.4,802.1 384.3,806.5 386.2,813.6 388.1,810.6 389.9,806.5 391.8,808.7 393.7,809.4 395.6,803.5 397.4,812.8 399.3,809.3 401.2,809.4 403.1,811.4 404.9,809.6 406.8,807.0 408.7,809.1 410.6,805.7 412.4,806.4 414.3,808.5 416.2,809.6 418.1,806.5 420.0,808.9 421.8,808.2 423.7,807.4 425.6,814.5 427.5,811.0 429.3,804.7 431.2,800.9 433.1,810.8 435.0,804.4 436.8,796.8 438.7,797.5 440.6,805.3 442.5,808.1 444.3,810.4 446.2,811.9 448.1,799.6 450.0,805.8 451.8,809.6 453.7,801.3 455.6,802.2 457.5,803.8 459.3,806.7 461.2,806.8 463.1,806.3 465.0,808.6 466.8,806.3 468.7,805.4 470.6,803.9 472.5,810.2 474.3,806.6 476.2,807.3 478.1,808.3 480.0,802.4 481.8,803.3 483.7,809.3 485.6,803.8 487.5,811.7 489.3,804.5 491.2,807.0 493.1,810.6 495.0,816.0 496.9,812.9 498.7,809.0 500.6,812.4 502.5,808.3 504.4,814.2 506.2,805.0 508.1,808.0 510.0,806.9 511.9,803.9 513.7,808.1 515.6,812.6 517.5,813.5 519.4,806.8 521.2,806.5 523.1,808.1 525.0,804.5 526.9,806.4 528.7,808.3 530.6,806.0 532.5,802.9 534.4,809.0 536.2,805.5 538.1,809.5 540.0,811.0 541.9,812.9 543.7,812.7 545.6,806.0 547.5,813.0 549.4,806.7 551.2,807.8 553.1,805.5 555.0,804.7 556.9,801.2 558.7,801.7 560.6,803.0 562.5,810.5 564.4,810.6 566.2,809.2 568.1,808.8 570.0,811.7 571.9,805.4 573.8,804.3 575.6,804.8 577.5,804.5 579.4,798.8 581.3,804.8 583.1,802.8 585.0,806.6 586.9,810.5 588.8,807.1 590.6,801.9 592.5,804.9 594.4,811.2 596.3,806.6 598.1,811.8 600.0,805.0 601.9,808.0 603.8,813.2 605.6,811.8 607.5,810.5 609.4,808.3 611.3,800.2 613.1,803.6 615.0,808.9 616.9,809.4 618.8,812.8 620.6,808.9 622.5,808.7 624.4,804.5 626.3,806.0 628.1,805.9 630.0,799.0 631.9,806.9 633.8,810.5 635.6,803.5 637.5,806.0 639.4,806.1 641.3,806.9 643.1,807.2 645.0,803.9 646.9,807.2 648.8,806.2 650.7,810.5 652.5,809.4 654.4,803.3 656.3,806.2 658.2,811.4 660.0,811.6 661.9,806.7 663.8,804.1 665.7,807.2 667.5,808.0 669.4,811.9 671.3,809.5 673.2,810.3 675.0,811.7 676.9,808.9 678.8,807.4 680.7,804.5 682.5,802.1 684.4,805.9 686.3,808.1 688.2,801.5 690.0,802.7 691.9,803.8 693.8,806.9 695.7,808.0 697.5,811.3 699.4,810.0 701.3,809.4 703.2,808.0 705.0,806.9 706.9,812.0 708.8,807.5 710.7,810.8 712.5,810.5 714.4,800.9 716.3,806.1 718.2,802.5 720.0,802.1 721.9,808.1 723.8,806.3 725.7,811.6 727.6,811.9 729.4,809.5 731.3,799.9 733.2,804.9 735.1,807.3 736.9,809.3 738.8,810.0 740.7,805.1 742.6,805.2 744.4,810.4 746.3,806.8 748.2,808.6 750.1,815.0 751.9,809.3 753.8,813.4 755.7,812.7 757.6,809.2 759.4,814.8 761.3,818.9 763.2,812.5 765.1,817.6 766.9,806.6 768.8,805.0 770.7,811.7 772.6,811.8 774.4,810.2 776.3,811.2 778.2,808.0 780.1,808.0 781.9,809.8 783.8,808.3 785.7,810.7 787.6,809.2 789.4,803.3 791.3,812.0 793.2,810.0 795.1,812.9 796.9,805.0 798.8,811.6 800.7,813.0 802.6,809.1 804.4,808.9 806.3,806.4 808.2,807.4 810.1,813.4 812.0,816.9 813.8,814.6 815.7,819.8 817.6,817.2 819.5,809.3 821.3,809.0 823.2,805.9 825.1,806.9 827.0,810.9 828.8,812.2 830.7,811.1 832.6,808.6 834.5,809.7 836.3,813.5 838.2,813.1 840.1,814.5 842.0,813.4 843.8,818.0 845.7,815.6 847.6,817.2 849.5,806.0 851.3,813.9 853.2,812.5 855.1,816.1 857.0,808.4 858.8,805.1 860.7,807.1 862.6,806.7 864.5,807.3 866.3,808.7 868.2,812.1 870.1,814.1 872.0,814.3 873.8,816.1 875.7,809.6 877.6,805.6 879.5,810.9 881.3,808.0 883.2,813.4 885.1,805.1 887.0,802.8 888.9,807.2 890.7,813.5 892.6,804.1 894.5,800.7 896.4,801.6 898.2,801.6 900.1,801.2 902.0,804.6 903.9,812.1 905.7,803.7 907.6,810.5 909.5,808.4 911.4,804.6 913.2,806.6 915.1,809.3 917.0,804.8 918.9,803.2 920.7,802.8 922.6,805.3 924.5,805.9 926.4,808.6 928.2,811.5 930.1,812.1 932.0,805.1 933.9,804.9 935.7,805.5 937.6,807.4 939.5,800.5 941.4,809.6 943.2,805.6 945.1,802.7 947.0,804.4 948.9,806.1 950.7,811.0 952.6,805.6 954.5,815.8 956.4,808.8 958.2,805.6 960.1,807.5 962.0,818.7 963.9,813.1 965.8,807.5 967.6,804.8 969.5,802.6 971.4,808.6 973.3,807.8 975.1,805.8 977.0,808.7 978.9,805.5 980.8,809.3 982.6,808.3 984.5,810.5 986.4,804.1 988.3,809.1 990.1,810.2 992.0,807.6 993.9,807.0 995.8,812.7 997.6,809.4 999.5,808.8 1001.4,813.0 1003.3,808.3 1005.1,809.9 1007.0,809.7 1008.9,808.4 1010.8,809.6 1012.6,808.6 1014.5,810.2 1016.4,808.8 1018.3,811.8 1020.1,814.7 1022.0,812.7 1023.9,808.2 1025.8,808.9 1027.6,804.4 1029.5,813.5 1031.4,814.5 1033.3,810.9 1035.1,809.4 1037.0,806.3 1038.9,807.3 1040.8,816.2 1042.7,812.4 1044.5,813.9 1046.4,813.6 1048.3,813.4 1050.2,820.0 1052.0,814.9 1053.9,813.8 1055.8,813.2 1057.7,816.3 1059.5,812.8 1061.4,816.4 1063.3,803.6 1065.2,815.5 1067.0,810.0 1068.9,818.1 1070.8,814.7 1072.7,808.6 1074.5,809.7 1076.4,810.2 1078.3,812.3 1080.2,805.9 1082.0,812.4 1083.9,818.9 1085.8,813.0 1087.7,811.8 1089.5,816.3 1091.4,815.9 1093.3,821.3 1095.2,814.6 1097.0,813.0 1098.9,812.7 1100.8,824.1 1102.7,817.5 1104.5,817.7 1106.4,817.4 1108.3,813.5 1110.2,820.3 1112.0,814.6 1113.9,816.3 1115.8,816.3 1117.7,814.5 1119.6,818.4 1121.4,821.8 1123.3,817.2 1125.2,821.5 1127.1,818.1 1128.9,816.1 1130.8,813.9 1132.7,813.2 1134.6,810.8 1136.4,816.0 1138.3,814.8 1140.2,815.1 1142.1,818.2 1143.9,814.2 1145.8,813.9 1147.7,811.4 1149.6,814.2 1151.4,812.6 1153.3,812.2 1155.2,815.1 1157.1,811.9 1158.9,812.5 1160.8,809.2 1162.7,812.3 1164.6,815.9 1166.4,815.2 1168.3,816.1 1170.2,817.0 1172.1,815.6 1173.9,811.4 1175.8,808.0 1177.7,813.9 1179.6,813.1 1181.4,815.2 1183.3,815.3 1185.2,818.3 1187.1,814.2 1188.9,817.9 1190.8,808.7 1192.7,813.6 1194.6,810.9 1196.5,809.8 1198.3,811.9 1200.2,807.1 1202.1,815.4 1204.0,815.4 1205.8,812.6 1207.7,814.0 1209.6,808.7 1211.5,811.6 1213.3,818.7 1215.2,813.5 1217.1,813.0 1219.0,813.5 1220.8,808.6 1222.7,809.3 1224.6,810.1 1226.5,817.1 1228.3,812.7 1230.2,808.9 1232.1,812.5 1234.0,810.4 1235.8,812.6 1237.7,816.2 1239.6,825.4 1241.5,819.5 1243.3,814.6 1245.2,808.8 1247.1,811.5 1249.0,817.1 1250.8,813.7 1252.7,814.0 1254.6,818.8 1256.5,818.3 1258.3,820.0 1260.2,813.9 1262.1,813.3 1264.0,819.5 1265.8,819.1 1267.7,816.1 1269.6,817.4 1271.5,819.0 1273.4,820.7 1275.2,815.4 1277.1,811.1 1279.0,809.7 1280.9,813.2 1282.7,811.0 1284.6,812.1 1286.5,815.0 1288.4,823.0 1290.2,816.5 1292.1,810.6 1294.0,809.1 1295.9,812.6 1297.7,811.3 1299.6,813.3 1301.5,812.4 1303.4,814.3 1305.2,818.7 1307.1,814.1 1309.0,815.4 1310.9,814.2 1312.7,811.5 1314.6,813.6 1316.5,808.7 1318.4,816.4 1320.2,812.7 1322.1,818.6 1324.0,815.6 1325.9,818.2 1327.7,816.6 1329.6,811.1 1331.5,815.1 1333.4,819.0 1335.2,816.3 1337.1,814.4 1339.0,814.0 1340.9,813.0 1342.7,812.4 1344.6,808.0 1346.5,812.8" fill="none" stroke="#a92cf3" stroke-width="3.1" stroke-linejoin="round" stroke-linecap="round"/>
</g>
<g stroke="#d8d8d8" stroke-width="1.9" stroke-dasharray="1.9 14.383" opacity="0.7">
<path d="M293.3 372.85 V928"/>
<path d="M487.3 372.85 V928"/>
<path d="M681.3 372.85 V928"/>
<path d="M875.3 372.85 V928"/>
<path d="M1069.3 372.85 V928"/>
<path d="M1263.3 372.85 V928"/>
<path d="M200.55 810.1 H1346"/>
<path d="M200.55 691.5 H1346"/>
<path d="M200.55 573.0 H1346"/>
<path d="M200.55 454.4 H1346"/>
</g>
<rect x="184.3" y="369.2" width="1162.9" height="559.5999999999999" fill="none" stroke="#dedede" stroke-width="1.9"/>
<g stroke="#dedede" stroke-width="1.8">
<path d="M177.5 928.6 H184"/>
<path d="M177.5 810.1 H184"/>
<path d="M177.5 691.5 H184"/>
<path d="M177.5 573.0 H184"/>
<path d="M177.5 454.4 H184"/>
<path d="M293.3 929 V935.5"/>
<path d="M487.3 929 V935.5"/>
<path d="M681.3 929 V935.5"/>
<path d="M875.3 929 V935.5"/>
<path d="M1069.3 929 V935.5"/>
<path d="M1263.3 929 V935.5"/>
</g>
</svg>
<div class="t" style="left:664.59px;top:337.56px;font-size:23.2px;color:#ececec;transform:scaleX(0.8041);-webkit-text-stroke:0.3px currentColor;">PCI EXPRESS POWER</div>
<div class="t" style="left:160.93px;top:920.17px;font-size:17.4px;color:#ececec;transform:scaleX(1.0750);-webkit-text-stroke:0.25px currentColor;">0</div>
<div class="t" style="left:151.18px;top:801.62px;font-size:17.4px;color:#ececec;transform:scaleX(1.0222);-webkit-text-stroke:0.25px currentColor;">50</div>
<div class="t" style="left:141.98px;top:683.07px;font-size:17.4px;color:#ececec;transform:scaleX(1.0222);-webkit-text-stroke:0.25px currentColor;">100</div>
<div class="t" style="left:141.98px;top:564.52px;font-size:17.4px;color:#ececec;transform:scaleX(1.0222);-webkit-text-stroke:0.25px currentColor;">150</div>
<div class="t" style="left:141.98px;top:445.97px;font-size:17.4px;color:#ececec;transform:scaleX(1.0222);-webkit-text-stroke:0.25px currentColor;">200</div>
<div class="t" style="left:278.59px;top:940.47px;font-size:17.4px;color:#ececec;transform:scaleX(1.0148);-webkit-text-stroke:0.25px currentColor;">960</div>
<div class="t" style="left:472.59px;top:940.47px;font-size:17.4px;color:#ececec;transform:scaleX(1.0148);-webkit-text-stroke:0.25px currentColor;">970</div>
<div class="t" style="left:666.59px;top:940.47px;font-size:17.4px;color:#ececec;transform:scaleX(1.0148);-webkit-text-stroke:0.25px currentColor;">980</div>
<div class="t" style="left:860.59px;top:940.47px;font-size:17.4px;color:#ececec;transform:scaleX(1.0148);-webkit-text-stroke:0.25px currentColor;">990</div>
<div class="t" style="left:1050.01px;top:940.47px;font-size:17.4px;color:#ececec;transform:scaleX(0.9892);-webkit-text-stroke:0.25px currentColor;">1000</div>
<div class="t" style="left:1244.01px;top:940.47px;font-size:17.4px;color:#ececec;transform:scaleX(0.9892);-webkit-text-stroke:0.25px currentColor;">1010</div>
<div class="t" style="left:731.50px;top:964.10px;font-size:17.6px;color:#ececec;transform:scaleX(1.0587);-webkit-text-stroke:0.25px currentColor;">Time (s)</div>
<div class="t" style="left:0;top:0;font-size:16.3px;color:#ececec;transform-origin:0 0;transform:translate(113.60px,692.1px) rotate(-90deg) scaleX(1.1200);">Power (W)</div>
</div>
<div class="a" style="left:0;top:915px;width:1612px;height:85px;background:linear-gradient(to bottom,rgba(0,0,0,0) 0%,rgba(0,0,0,0.04) 35%,rgba(0,0,0,0.11) 70%,rgba(0,0,0,0.2) 100%)"></div>
<svg class="a" style="left:0;top:970px" width="1612" height="30" viewBox="0 970 1612 30">
<defs><linearGradient id="rg" x1="0" x2="1032" gradientUnits="userSpaceOnUse"><stop offset="0" stop-color="#d2143a"/><stop offset="0.8" stop-color="#dc1a44"/><stop offset="1" stop-color="#e8408a"/></linearGradient></defs>
<rect x="0" y="980.3" width="1612" height="3.8" fill="#fff" opacity="0.25"/>
<rect x="1032" y="980.3" width="65.5" height="3.8" fill="#fff" opacity="0.36"/>
<rect x="0" y="980.3" width="1032" height="3.8" fill="url(#rg)"/>
<rect x="58.1" y="980" width="1.9" height="4.4" fill="#000" opacity="1"/>
<rect x="131.1" y="980" width="1.9" height="4.4" fill="#000" opacity="1"/>
<rect x="235.79999999999998" y="980" width="1.9" height="4.4" fill="#000" opacity="1"/>
<rect x="271.1" y="980" width="1.9" height="4.4" fill="#000" opacity="1"/>
<rect x="387.1" y="980" width="1.9" height="4.4" fill="#000" opacity="1"/>
<rect x="436.8" y="980" width="1.9" height="4.4" fill="#000" opacity="1"/>
<rect x="509.5" y="980" width="1.9" height="4.4" fill="#000" opacity="1"/>
<rect x="594.1" y="980" width="1.9" height="4.4" fill="#000" opacity="1"/>
<rect x="650.9" y="980" width="1.9" height="4.4" fill="#000" opacity="1"/>
<rect x="692.4" y="980" width="1.9" height="4.4" fill="#000" opacity="1"/>
<rect x="733.7" y="980" width="1.9" height="4.4" fill="#000" opacity="1"/>
<rect x="830.8000000000001" y="980" width="1.9" height="4.4" fill="#000" opacity="1"/>
<rect x="914.5" y="980" width="1.9" height="4.4" fill="#000" opacity="1"/>
<rect x="962.6" y="980" width="1.9" height="4.4" fill="#000" opacity="1"/>
<rect x="1000.5" y="980" width="1.9" height="4.4" fill="#000" opacity="1"/>
<rect x="1062.6999999999998" y="980" width="1.9" height="4.4" fill="#000" opacity="1"/>
<rect x="1325.5" y="980" width="1.9" height="4.4" fill="#000" opacity="1"/>
<rect x="1370.6999999999998" y="980" width="1.9" height="4.4" fill="#000" opacity="1"/>
<rect x="1416.6999999999998" y="980" width="1.9" height="4.4" fill="#000" opacity="1"/>
<rect x="1462.5" y="980" width="1.9" height="4.4" fill="#000" opacity="1"/>
<circle cx="1032.4" cy="982.4" r="6.4" fill="#ff1240"/>
<rect x="1478" y="997.6" width="17" height="3" fill="#e8e8e8" rx="1"/>
<rect x="1533" y="997" width="6" height="3" fill="#e8e8e8"/>
<rect x="1542" y="994.3" width="12" height="7" fill="#c8102e" rx="1"/><text x="1548" y="1001.3" font-family="Liberation Sans, sans-serif" font-size="7.5" font-weight="bold" fill="#fff" text-anchor="middle">4K</text>
<rect x="1573" y="997.4" width="23" height="3" fill="#e8e8e8" rx="1"/>
<rect x="7" y="997.6" width="3" height="3" fill="#bbb"/>
</svg>
</div></body></html>
